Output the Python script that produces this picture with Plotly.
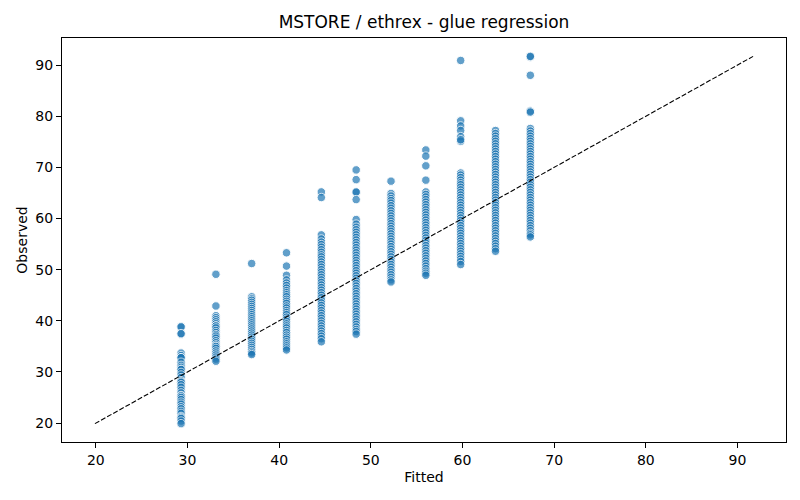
import plotly.graph_objects as go

# fitted levels (one column of points per level)
fitted_levels = [29.3, 33.1, 37.0, 40.8, 44.6, 48.4, 52.2, 56.0, 59.8, 63.6, 67.4]

obs_293 = [38.9, 38.8, 37.4, 37.5, 33.7, 33.2, 32.8, 32.8, 31.9, 31.3, 30.9, 30.5, 30.5,
           29.9, 29.4, 28.9, 28.3, 28.0, 28.0, 27.5, 27.0, 26.4, 25.9, 25.4, 25.3, 25.0,
           24.6, 24.1, 23.7, 23.2, 22.8, 22.3, 21.9, 21.3, 21.1, 20.9, 20.4, 19.9]
obs_331 = [49.1, 42.9, 41.0, 40.6, 40.2, 39.8, 39.4, 39.0, 39.0, 38.6, 38.1, 37.7, 37.3,
           37.0, 36.6, 36.1, 35.7, 35.3, 35.0, 35.0, 34.6, 34.1, 33.7, 33.3, 32.9, 32.5, 32.1]
obs_370 = [51.2, 44.7, 44.3, 44.0, 43.6, 43.2, 42.8, 42.4, 42.0, 41.6, 41.2, 40.8, 40.4,
           40.0, 39.6, 39.2, 38.8, 38.4, 38.0, 37.6, 37.2, 36.8, 36.4, 36.0, 35.6, 35.2,
           34.8, 34.4, 34.0, 33.7, 33.4]
obs_408 = [53.3, 50.7, 48.9, 48.0, 47.4, 46.9, 46.4, 45.9, 45.5, 45.1, 44.7, 44.2, 43.8,
           43.4, 42.9, 42.5, 42.0, 41.6, 41.2, 40.7, 40.3, 39.9, 39.4, 39.0, 38.6, 38.1,
           37.7, 37.2, 36.8, 36.4, 35.9, 35.5, 35.1, 34.7, 34.3]
obs_446 = [65.2, 64.1, 56.8, 56.0, 55.4, 54.9, 54.4, 53.9, 53.4, 52.9, 52.5, 52.0, 51.5,
           51.0, 50.5, 50.0, 49.5, 49.0, 48.5, 48.0, 47.5, 47.0, 46.5, 46.0, 45.5, 45.0,
           44.5, 44.0, 43.5, 43.0, 42.5, 42.0, 41.5, 41.0, 40.5, 40.0, 39.5, 39.0, 38.5,
           38.0, 37.5, 37.0, 36.5, 35.9]
obs_484 = [69.5, 67.6, 65.1, 65.2, 63.7, 59.8, 58.9, 58.3, 57.8, 57.3, 56.8, 56.3, 55.8,
           55.3, 54.8, 54.3, 53.8, 53.3, 52.8, 52.3, 51.8, 51.3, 50.8, 50.3, 49.8, 49.3,
           48.8, 48.3, 47.8, 47.3, 46.8, 46.3, 45.8, 45.3, 44.8, 44.3, 43.8, 43.3, 42.8,
           42.3, 41.8, 41.3, 40.8, 40.3, 39.8, 39.3, 38.8, 38.3, 37.9, 37.4]
obs_522 = [67.3, 64.9, 64.4, 63.9, 63.5, 63.0, 62.5, 62.0, 61.5, 61.0, 60.5, 60.0, 59.5,
           59.0, 58.5, 58.0, 57.5, 57.0, 56.5, 56.0, 55.5, 55.0, 54.5, 54.0, 53.5, 53.0,
           52.5, 52.0, 51.5, 51.0, 50.5, 50.0, 49.5, 49.0, 48.5, 48.0, 47.6]
obs_560 = [73.4, 72.2, 70.3, 67.5, 65.2, 64.7, 64.2, 63.7, 63.2, 62.7, 62.2, 61.7, 61.2,
           60.7, 60.2, 59.7, 59.2, 58.7, 58.2, 57.7, 57.2, 56.7, 56.2, 55.7, 55.2, 54.7,
           54.2, 53.7, 53.2, 52.7, 52.2, 51.7, 51.2, 50.7, 50.2, 49.7, 49.3, 48.9]
obs_598 = [90.9, 79.1, 78.1, 77.2, 76.0, 75.1, 75.4, 68.9, 68.5, 68.0, 67.5, 67.0, 66.6,
           66.1, 65.6, 65.1, 64.6, 64.1, 63.6, 63.1, 62.6, 62.1, 61.6, 61.1, 60.6, 60.1,
           59.6, 59.1, 58.6, 58.1, 57.6, 57.1, 56.6, 56.1, 55.6, 55.1, 54.6, 54.1, 53.6,
           53.1, 52.6, 52.1, 51.6, 51.0]
obs_636 = [77.2, 76.6, 76.1, 75.6, 75.1, 74.6, 74.1, 73.6, 73.1, 72.6, 72.1, 71.6, 71.1,
           70.6, 70.1, 69.6, 69.1, 68.6, 68.1, 67.6, 67.1, 66.6, 66.1, 65.6, 65.1, 64.6,
           64.1, 63.6, 63.1, 62.6, 62.1, 61.6, 61.1, 60.6, 60.1, 59.6, 59.1, 58.6, 58.1,
           57.6, 57.1, 56.6, 56.1, 55.6, 55.1, 54.6, 54.1, 53.6]
obs_674 = [91.6, 91.7, 88.0, 81.0, 80.8, 77.6, 77.1, 76.6, 76.1, 75.6, 75.1, 74.6, 74.1,
           73.6, 73.1, 72.6, 72.1, 71.6, 71.1, 70.6, 70.1, 69.6, 69.1, 68.6, 68.1, 67.6,
           67.1, 66.6, 66.1, 65.6, 65.1, 64.6, 64.1, 63.6, 63.1, 62.6, 62.1, 61.6, 61.1,
           60.6, 60.1, 59.6, 59.1, 58.6, 58.1, 57.6, 57.1, 56.8, 56.4]

observed_by_level = [obs_293, obs_331, obs_370, obs_408, obs_446, obs_484,
                     obs_522, obs_560, obs_598, obs_636, obs_674]

xs, ys = [], []
for lvl, obs in zip(fitted_levels, observed_by_level):
    xs += [lvl] * len(obs)
    ys += obs

lo = min(min(xs), min(ys))
hi = max(max(xs), max(ys))
pad = (hi - lo) * 0.05

font = "DejaVu Sans, Liberation Sans, sans-serif"

fig = go.Figure()
fig.add_trace(go.Scatter(
    x=xs, y=ys, mode="markers",
    marker=dict(size=8.5, color="#1f77b4", opacity=0.7, line=dict(color="white", width=1)),
    showlegend=False,
))
fig.add_trace(go.Scatter(
    x=[lo, hi], y=[lo, hi], mode="lines",
    line=dict(color="black", width=1.1, dash="5px,2px"),
    showlegend=False,
))

axis = dict(
    range=[lo - pad, hi + pad], showgrid=False, zeroline=False, automargin=False,
    showline=True, linecolor="black", linewidth=1, mirror=True,
    ticks="outside", ticklen=5, tickcolor="black", dtick=10,
    tickfont=dict(family=font, size=14, color="black"),
)
# the page body adds an 8px offset, margins below make up for it
fig.update_layout(
    width=800, height=500,
    margin=dict(l=54, r=22, t=30, b=66),
    plot_bgcolor="white", paper_bgcolor="white",
    title=dict(text="MSTORE / ethrex - glue regression", x=0.5, xanchor="center",
               xref="paper", y=0.972, yanchor="middle", yref="container",
               font=dict(family=font, size=17, color="black")),
    xaxis=dict(axis, title=dict(text="Fitted", font=dict(family=font, size=14, color="black"), standoff=5)),
    yaxis=dict(axis, title=dict(text="Observed", font=dict(family=font, size=14, color="black"), standoff=4)),
)

fig.write_html("out.html")
